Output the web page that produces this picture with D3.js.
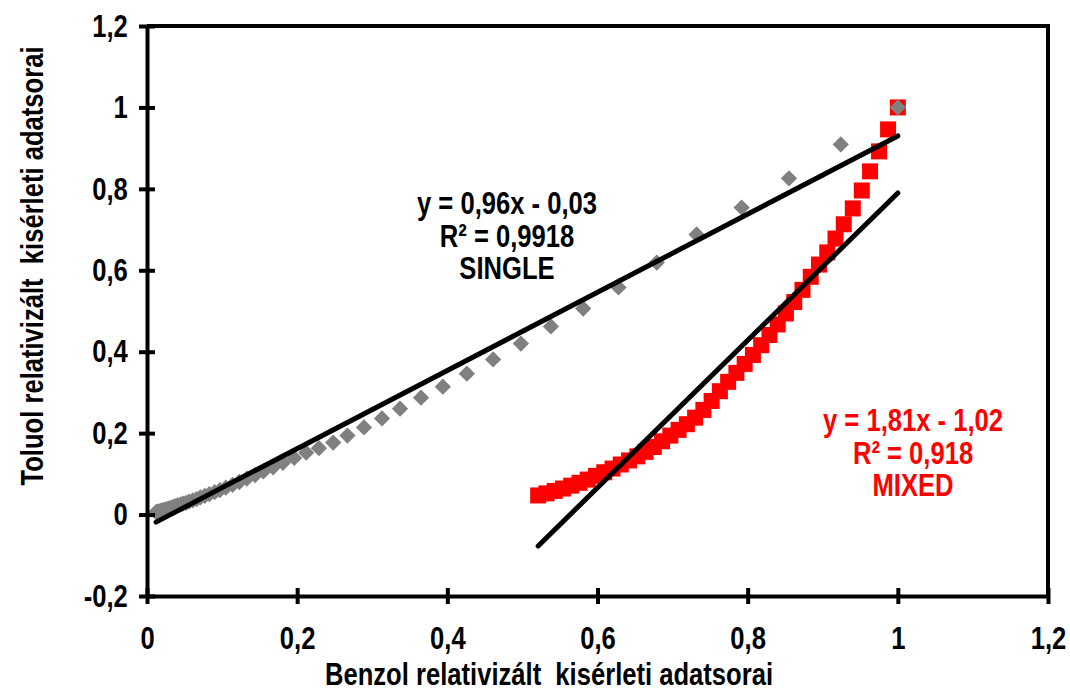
<!DOCTYPE html>
<html>
<head>
<meta charset="utf-8">
<script src="https://cdn.jsdelivr.net/npm/d3@7"></script>
<style>
	body { margin: 0; background: #fff; }
	text { font-family: "Liberation Sans", Arial, sans-serif; font-weight: bold; white-space: pre; }
</style>
</head>
<body>
<div class="chart"></div>
<script>
// SINGLE series (grey diamonds)
const singleX = [1.0, 0.924, 0.855, 0.792, 0.732, 0.679, 0.628, 0.581, 0.538, 0.498, 0.461, 0.426, 0.394, 0.365, 0.337, 0.313, 0.289, 0.267, 0.248, 0.229,
	0.212, 0.196, 0.181, 0.168, 0.155, 0.144, 0.133, 0.123, 0.114, 0.105, 0.097, 0.09, 0.083, 0.077, 0.071, 0.066, 0.061, 0.056, 0.052, 0.048,
	0.045, 0.041, 0.038, 0.035, 0.033, 0.03, 0.028, 0.026, 0.024, 0.022, 0.02, 0.018, 0.016, 0.014, 0.012];
const singleY = [1.0, 0.909, 0.826, 0.754, 0.688, 0.619, 0.558, 0.506, 0.462, 0.42, 0.381, 0.346, 0.314, 0.287, 0.26, 0.236, 0.214, 0.194, 0.177, 0.163,
	0.152, 0.139, 0.127, 0.116, 0.106, 0.097, 0.088, 0.08, 0.073, 0.066, 0.06, 0.055, 0.05, 0.046, 0.042, 0.038, 0.035, 0.032, 0.029, 0.027,
	0.025, 0.023, 0.021, 0.019, 0.017, 0.016, 0.014, 0.013, 0.012, 0.011, 0.01, 0.009, 0.008, 0.007, 0.006];

// MIXED series (red squares)
const mixedX = [0.521, 0.532, 0.543, 0.554, 0.565, 0.576, 0.587, 0.598, 0.609, 0.62, 0.631, 0.642, 0.653, 0.664, 0.675, 0.686, 0.697, 0.708, 0.719, 0.73,
	0.741, 0.752, 0.763, 0.774, 0.785, 0.796, 0.807, 0.818, 0.829, 0.84, 0.851, 0.862, 0.873, 0.884, 0.895, 0.906, 0.917, 0.928, 0.94, 0.952,
	0.963, 0.975, 0.987, 1.0];
const mixedY = [0.047, 0.052, 0.058, 0.064, 0.071, 0.078, 0.086, 0.095, 0.104, 0.113, 0.123, 0.133, 0.143, 0.154, 0.166, 0.18, 0.194, 0.208, 0.222, 0.238,
	0.257, 0.279, 0.303, 0.326, 0.348, 0.37, 0.392, 0.416, 0.441, 0.467, 0.494, 0.522, 0.552, 0.584, 0.614, 0.644, 0.678, 0.713, 0.752, 0.796,
	0.843, 0.892, 0.946, 1.0];

// trendlines as printed on the chart
const singleFit = { slope: 0.96, intercept: -0.03, label: ["y = 0,96x - 0,03", "R² = 0,9918", "SINGLE"] };
const mixedFit = { slope: 1.81, intercept: -1.02, label: ["y = 1,81x - 1,02", "R² = 0,918", "MIXED"] };

const xTicks = [0, 0.2, 0.4, 0.6, 0.8, 1, 1.2];
const yTicks = [-0.2, 0, 0.2, 0.4, 0.6, 0.8, 1, 1.2];

const width = 1070;
const height = 691;
const fs = 32; // font size
const sx = 0.8; // narrow look
const fmt = (d) => String(+d.toFixed(1)).replace(".", ",");

const x = d3.scaleLinear().domain([0, 1.2]).range([147, 1048]);
const y = d3.scaleLinear().domain([-0.2, 1.2]).range([596, 26]);

const svg = d3.select(".chart").append("svg").attr("width", width).attr("height", height);

// plot frame (top + right)
svg.append("path")
	.attr("d", `M${x(0)},${y(1.2)}H${x(1.2)}V${y(-0.2)}`)
	.attr("fill", "none")
	.attr("stroke", "black")
	.attr("stroke-width", 4);

const single = singleX.map((v, i) => ({ x: v, y: singleY[i] }));
const mixed = mixedX.map((v, i) => ({ x: v, y: mixedY[i] }));

const sq = 16;
svg.append("g")
	.selectAll("rect")
	.data(mixed)
	.join("rect")
	.attr("x", (d) => x(d.x) - sq / 2)
	.attr("y", (d) => y(d.y) - sq / 2)
	.attr("width", sq)
	.attr("height", sq)
	.attr("fill", "#ff0000");

const dm = 11.5;
svg.append("g")
	.selectAll("rect")
	.data(single)
	.join("rect")
	.attr("x", -dm / 2)
	.attr("y", -dm / 2)
	.attr("width", dm)
	.attr("height", dm)
	.attr("transform", (d) => `translate(${x(d.x)},${y(d.y)}) rotate(45)`)
	.attr("fill", "#808080");

const trend = (fit, xs) => {
	const x0 = d3.min(xs);
	const x1 = d3.max(xs);
	svg.append("line")
		.attr("x1", x(x0))
		.attr("y1", y(fit.slope * x0 + fit.intercept))
		.attr("x2", x(x1))
		.attr("y2", y(fit.slope * x1 + fit.intercept))
		.attr("stroke", "black")
		.attr("stroke-width", 5)
		.attr("stroke-linecap", "round");
};
trend(singleFit, singleX);
trend(mixedFit, mixedX);

// axes
const xAxis = svg.append("g")
	.attr("transform", `translate(0,${y(-0.2)})`)
	.call(d3.axisBottom(x).tickValues(xTicks).tickFormat(fmt).tickSizeInner(8).tickSizeOuter(0).tickPadding(22));
const yAxis = svg.append("g")
	.attr("transform", `translate(${x(0)},0)`)
	.call(d3.axisLeft(y).tickValues(yTicks).tickFormat(fmt).tickSizeInner(8).tickSizeOuter(0).tickPadding(16));

[xAxis, yAxis].forEach((g) => {
	g.select(".domain").attr("stroke", "black").attr("stroke-width", 4);
	g.selectAll(".tick line").attr("stroke", "black").attr("stroke-width", 4);
	g.selectAll(".tick text")
		.attr("fill", "black")
		.attr("transform", `scale(${sx},1)`)
		.style("font-size", fs + "px")
		.style("font-family", null);
});
xAxis.selectAll(".tick line").attr("y1", -8);
yAxis.selectAll(".tick line").attr("x1", 8);

// axis titles
svg.append("text")
	.attr("transform", `translate(549,685) scale(${sx},1)`)
	.attr("text-anchor", "middle")
	.style("font-size", fs + "px")
	.text("Benzol relativizált  kisérleti adatsorai");
svg.append("text")
	.attr("transform", `translate(43,266) rotate(-90) scale(${sx},1)`)
	.attr("text-anchor", "middle")
	.style("font-size", fs + "px")
	.text("Toluol relativizált  kisérleti adatsorai");

// trendline labels
const label = (fit, cx, cy, color) => {
	svg.append("g")
		.selectAll("text")
		.data(fit.label)
		.join("text")
		.attr("transform", (d, i) => `translate(${cx},${cy + i * 32.5}) scale(${sx},1)`)
		.attr("text-anchor", "middle")
		.attr("fill", color)
		.style("font-size", fs + "px")
		.text((d) => d);
};
label(singleFit, 507, 214, "black");
label(mixedFit, 913, 431, "#ff0000");
</script>
</body>
</html>
